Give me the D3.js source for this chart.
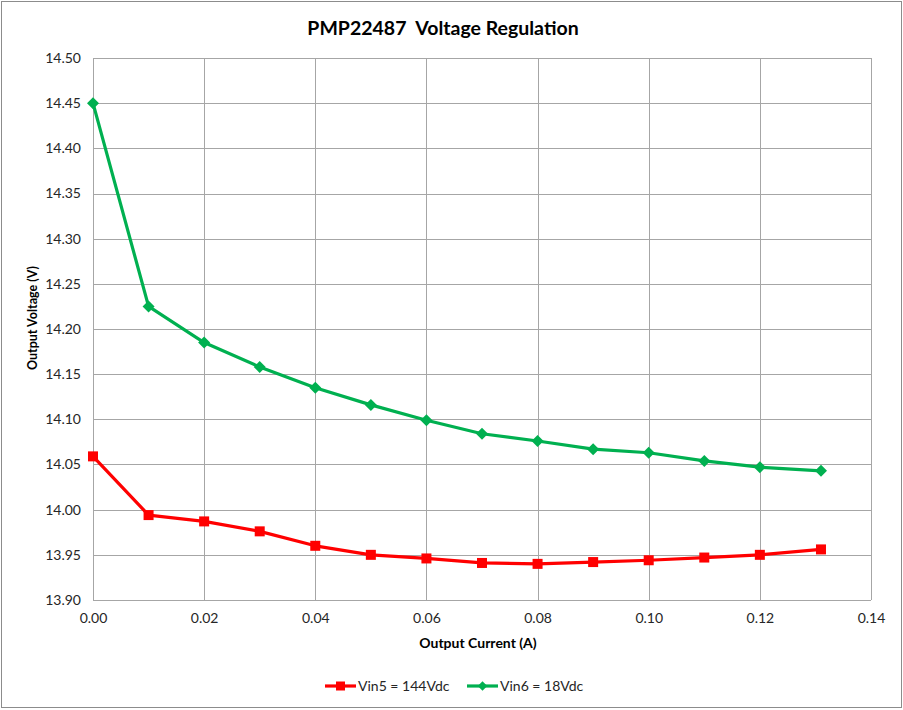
<!DOCTYPE html>
<html><head><meta charset="utf-8">
<script src="https://cdn.jsdelivr.net/npm/d3@7"></script>
<style>
html,body{margin:0;padding:0;background:#fff;}
svg{display:block;font-family:Lato,"Open Sans",sans-serif;}
</style></head>
<body>
<svg id="chart" width="903" height="710"></svg>
<script>
const current = [0, 0.01, 0.02, 0.03, 0.04, 0.05, 0.06, 0.07, 0.08, 0.09, 0.10, 0.11, 0.12, 0.131];
const vin5 = [14.059, 13.994, 13.987, 13.976, 13.960, 13.950, 13.946, 13.941, 13.940, 13.942, 13.944, 13.947, 13.950, 13.956];
const vin6 = [14.450, 14.225, 14.185, 14.158, 14.135, 14.116, 14.099, 14.084, 14.076, 14.067, 14.063, 14.054, 14.047, 14.043];
const xTicks = [0, 0.02, 0.04, 0.06, 0.08, 0.10, 0.12, 0.14];
const yTicks = [13.90, 13.95, 14.00, 14.05, 14.10, 14.15, 14.20, 14.25, 14.30, 14.35, 14.40, 14.45, 14.50];
const seriesNames = ["Vin5 = 144Vdc", "Vin6 = 18Vdc"];
const seriesColors = ["#ff0000", "#00b050"];

const svg = d3.select("#chart");
svg.append("rect").attr("x",1.5).attr("y",1.5).attr("width",900).attr("height",706)
  .attr("fill","#fff").attr("stroke","#8c8c8c").attr("stroke-width",1);

const L=93, R=871, T=58, B=600;
const x = d3.scaleLinear().domain([0,0.14]).range([L,R]);
const y = d3.scaleLinear().domain([13.90,14.50]).range([B,T]);

// gridlines
const g = svg.append("g");
g.selectAll(".vg").data(xTicks).join("line")
  .attr("x1",d=>Math.round(x(d))+0.5).attr("x2",d=>Math.round(x(d))+0.5)
  .attr("y1",T).attr("y2",B).attr("stroke","#a6a6a6").attr("stroke-width",1);
g.selectAll(".hg").data(yTicks).join("line")
  .attr("y1",d=>Math.round(y(d))+0.5).attr("y2",d=>Math.round(y(d))+0.5)
  .attr("x1",L).attr("x2",R).attr("stroke","#a6a6a6").attr("stroke-width",1);

// axes
const xAxis = d3.axisBottom(x).tickValues(xTicks).tickFormat(d3.format(".2f")).tickSize(0).tickPadding(13);
const yAxis = d3.axisLeft(y).tickValues(yTicks).tickFormat(d3.format(".2f")).tickSize(0).tickPadding(12);
const gx = svg.append("g").attr("transform",`translate(0,${B})`).call(xAxis);
const gy = svg.append("g").attr("transform",`translate(${L},0)`).call(yAxis);
[gx,gy].forEach(a=>{a.select(".domain").remove();a.selectAll("text").attr("font-size",14).attr("fill","#262626").attr("font-family","Lato,'Open Sans',sans-serif");});

// titles
svg.append("text").attr("x",443).attr("y",35).attr("text-anchor","middle").attr("xml:space","preserve")
  .style("white-space","pre")
  .attr("font-size",19.5).attr("font-weight","bold").attr("fill","#000").text("PMP22487  Voltage Regulation");
svg.append("text").attr("x",478).attr("y",648).attr("text-anchor","middle")
  .attr("font-size",14).attr("font-weight","bold").attr("fill","#000").text("Output Current (A)");
svg.append("text").attr("transform",`translate(37,318) rotate(-90)`).attr("text-anchor","middle")
  .attr("font-size",12.5).attr("font-weight","bold").attr("fill","#000").text("Output Voltage (V)");

// lines
const line = d3.line().x((d,i)=>x(current[i])).y(d=>y(d));
const data = [vin5, vin6];
data.forEach((s,k)=>{
  svg.append("path").datum(s).attr("d",line).attr("fill","none")
    .attr("stroke",seriesColors[k]).attr("stroke-width",3.2).attr("stroke-linejoin","round");
});
// markers
svg.selectAll(".sq").data(vin5).join("rect")
  .attr("x",(d,i)=>x(current[i])-5).attr("y",d=>y(d)-5).attr("width",10).attr("height",10)
  .attr("fill",seriesColors[0]);
const diamond = d3.symbol().type(d3.symbolSquare).size(72);
svg.selectAll(".dm").data(vin6).join("path")
  .attr("d",diamond())
  .attr("transform",(d,i)=>`translate(${x(current[i])},${y(d)}) rotate(45)`)
  .attr("fill",seriesColors[1]);

// legend
const leg = svg.append("g").attr("transform","translate(0,686)");
const legX = [325, 467];
seriesNames.forEach((n,k)=>{
  const lx = legX[k];
  leg.append("line").attr("x1",lx).attr("x2",lx+31).attr("y1",0).attr("y2",0)
    .attr("stroke",seriesColors[k]).attr("stroke-width",3.2);
  if(k===0){
    leg.append("rect").attr("x",lx+15.5-4.5).attr("y",-4.5).attr("width",9).attr("height",9).attr("fill",seriesColors[k]);
  } else {
    leg.append("path").attr("d",d3.symbol().type(d3.symbolSquare).size(45)())
      .attr("transform",`translate(${lx+15.5},0) rotate(45)`).attr("fill",seriesColors[k]);
  }
  leg.append("text").attr("x",lx+33).attr("y",5).attr("font-size",14).attr("fill","#262626").text(n);
});
</script>
</body></html>
